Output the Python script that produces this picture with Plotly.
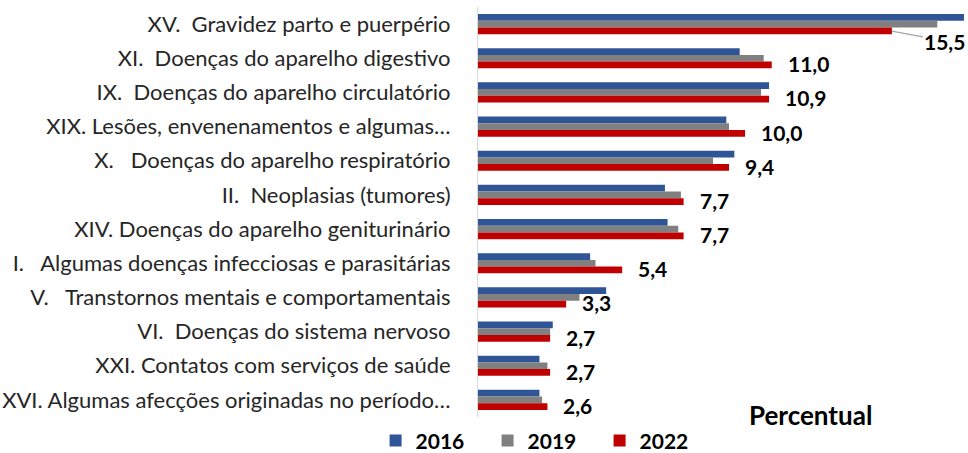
import plotly.graph_objects as go

NB = "\u00a0"

categories = [
    f"XV.{NB}{NB}Gravidez parto e puerpério",
    f"XI.{NB}{NB}Doenças do aparelho digestivo",
    f"IX.{NB}{NB}Doenças do aparelho circulatório",
    "XIX. Lesões, envenenamentos e algumas…",
    f"X.{NB}{NB}{NB}Doenças do aparelho respiratório",
    f"II.{NB}{NB}Neoplasias (tumores)",
    "XIV. Doenças do aparelho geniturinário",
    f"I.{NB}{NB}{NB}Algumas doenças infecciosas e parasitárias",
    f"V.{NB}{NB}{NB}Transtornos mentais e comportamentais",
    f"VI.{NB}{NB}Doenças do sistema nervoso",
    "XXI. Contatos com serviços de saúde",
    "XVI. Algumas afecções originadas no período…",
]

values_2016 = [18.2, 9.8, 10.9, 9.3, 9.6, 7.0, 7.1, 4.2, 4.8, 2.8, 2.3, 2.3]
values_2019 = [17.2, 10.7, 10.6, 9.4, 8.8, 7.6, 7.5, 4.4, 3.8, 2.7, 2.6, 2.4]
values_2022 = [15.5, 11.0, 10.9, 10.0, 9.4, 7.7, 7.7, 5.4, 3.3, 2.7, 2.7, 2.6]

years = ["2016", "2019", "2022"]
colors = ["#2F5597", "#808080", "#C00000"]

FONT = "Lato"

fig = go.Figure()
for year, vals, col in zip(years, [values_2016, values_2019, values_2022], colors):
    fig.add_trace(go.Bar(
        name=year,
        y=categories,
        x=vals,
        orientation="h",
        marker=dict(color=col, line=dict(width=0)),
    ))

# value labels next to the 2022 bars
for i, (cat, v) in enumerate(zip(categories, values_2022)):
    label = f"{v:.1f}".replace(".", ",")
    if i == 0:
        # longest bar: label pulled out with a leader line
        fig.add_annotation(
            x=v, y=cat, text=f"<b>{label}</b>",
            showarrow=True, arrowhead=0, arrowwidth=1.2, arrowcolor="#A6A6A6",
            ax=53, ay=10, yshift=-7, standoff=0,
            font=dict(family=FONT, size=21, color="black"),
        )
    else:
        fig.add_annotation(
            x=v, y=cat, text=f"<b>{label}</b>",
            showarrow=False, xanchor="left", yshift=-5.5, xshift=14,
            font=dict(family=FONT, size=21, color="black"),
        )

fig.add_annotation(
    xref="paper", yref="paper", x=0.678, y=0.005,
    text="<b>Percentual</b>", showarrow=False,
    xanchor="center", yanchor="middle",
    font=dict(family=FONT, size=26, color="black"),
)

fig.update_layout(
    width=968, height=453,
    margin=dict(l=478, r=0, t=7, b=36),
    plot_bgcolor="white", paper_bgcolor="white",
    barmode="group", bargap=0.41, bargroupgap=0,
    font=dict(family=FONT, color="#262626"),
    showlegend=True,
    legend=dict(
        orientation="h", xref="container", yref="container",
        x=0.388, y=0.072, xanchor="left", yanchor="top",
        font=dict(family=FONT, size=21, color="black", weight="bold"),
        entrywidth=67, itemwidth=30,
    ),
    xaxis=dict(range=[0, 18.35], showticklabels=False, showgrid=False,
               zeroline=False, showline=False, fixedrange=True,
               automargin=False),
    yaxis=dict(range=[len(categories) - 0.5, -0.5], showgrid=False,
               showline=True, linecolor="#D9D9D9", linewidth=1, ticks="",
               ticklabelstandoff=22, automargin=False, fixedrange=True,
               tickfont=dict(family=FONT, size=22, color="#262626")),
)

fig.write_html("out.html", config={"displayModeBar": False},
               post_script="document.body.style.margin = '0';")
